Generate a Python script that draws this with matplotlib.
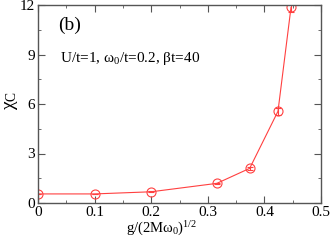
import matplotlib.pyplot as plt
from matplotlib.ticker import MultipleLocator

plt.rcParams['font.family'] = ['Liberation Serif', 'DejaVu Serif']
plt.rcParams['mathtext.fontset'] = 'custom'
plt.rcParams['mathtext.rm'] = 'Liberation Serif'
plt.rcParams['mathtext.it'] = 'Liberation Serif'

# data
g = [0.0, 0.1, 0.2, 0.316, 0.374, 0.424, 0.447]
chi = [0.55, 0.55, 0.68, 1.19, 2.1, 5.56, 11.85]
err = [0.02, 0.02, 0.03, 0.05, 0.1, 0.2, 0.25]

red = '#ff4040'

fig = plt.figure(figsize=(3.32, 2.4), dpi=100)
ax = fig.add_axes([38 / 332, 37 / 240, 283 / 332, 198 / 240])

ax.errorbar(g, chi, yerr=err, color=red, lw=0.8, marker='o', ms=6.5,
            mfc='none', mec=red, mew=0.8, capsize=2.5, elinewidth=0.8)

ax.set_xlim(0, 0.5)
ax.set_ylim(0, 12)
ax.xaxis.set_major_locator(MultipleLocator(0.1))
ax.xaxis.set_minor_locator(MultipleLocator(0.05))
ax.yaxis.set_major_locator(MultipleLocator(3))
ax.yaxis.set_minor_locator(MultipleLocator(1.5))
ax.set_xticks([0, 0.1, 0.2, 0.3, 0.4, 0.5])
ax.set_xticklabels(['0', '0.1', '0.2', '0.3', '0.4', '0.5'])
ax.tick_params(which='both', direction='in', top=True, right=True,
               labelsize=11, pad=2, color='#555555')
ax.tick_params(which='major', length=5)
ax.tick_params(which='minor', length=2.5)
for s in ax.spines.values():
    s.set_color('#555555')
    s.set_linewidth(1.0)

fig.text(162 / 332, 1 - 233 / 240, 'g/(2Mω$_0$)$^{1/2}$', fontsize=10.5,
         ha='center', va='baseline')
fig.text(11 / 332, 1 - 100 / 240, 'χ$_\\mathrm{C}$', fontsize=14,
         rotation=90, ha='center', va='center')

ax.text(0.07, 0.875, '(b)', transform=ax.transAxes, fontsize=14,
        va='baseline')
ax.text(0.078, 0.712, 'U/t=1, ω$_0$/t=0.2, βt=40',
        transform=ax.transAxes, fontsize=11, va='baseline')

fig.savefig('out.png', dpi=100)
